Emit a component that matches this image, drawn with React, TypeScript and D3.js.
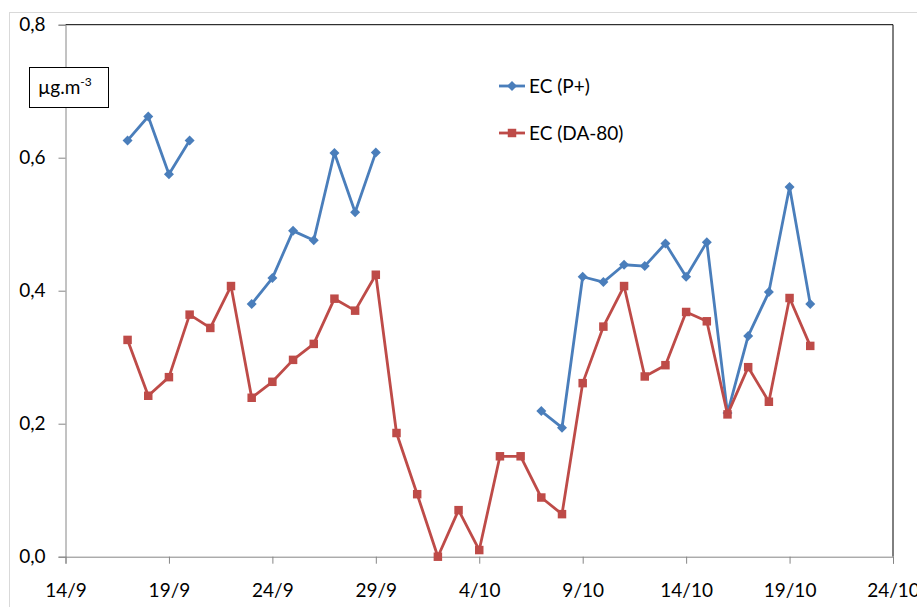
import React, { useEffect, useRef } from 'react';
import * as d3 from 'd3';

// sample days (dd/mm), 17/9 .. 20/10
const days = [
  '17/9', '18/9', '19/9', '20/9', '21/9', '22/9', '23/9', '24/9', '25/9', '26/9',
  '27/9', '28/9', '29/9', '30/9', '1/10', '2/10', '3/10', '4/10', '5/10', '6/10',
  '7/10', '8/10', '9/10', '10/10', '11/10', '12/10', '13/10', '14/10', '15/10', '16/10',
  '17/10', '18/10', '19/10', '20/10',
];

// EC (P+) — null where no sample
const ecP = [
  0.626, 0.662, 0.575, 0.626, null, null, 0.380, 0.419, 0.490, 0.476,
  0.607, 0.518, 0.608, null, null, null, null, null, null, null,
  0.219, 0.194, 0.421, 0.413, 0.439, 0.437, 0.471, 0.421, 0.473, 0.216,
  0.332, 0.398, 0.556, 0.380,
];

// EC (DA-80)
const ecDA = [
  0.326, 0.242, 0.270, 0.364, 0.344, 0.407, 0.239, 0.263, 0.296, 0.320,
  0.388, 0.370, 0.424, 0.186, 0.094, 0.0, 0.070, 0.010, 0.151, 0.151,
  0.089, 0.064, 0.261, 0.346, 0.407, 0.271, 0.288, 0.368, 0.354, 0.214,
  0.285, 0.233, 0.389, 0.317,
];

const xTicks = ['14/9', '19/9', '24/9', '29/9', '4/10', '9/10', '14/10', '19/10', '24/10'];
const yTicks = [0, 0.2, 0.4, 0.6, 0.8];

const parseDay = (s: string) => {
  const [d, m] = s.split('/').map(Number);
  return new Date(2011, m - 1, d);
};

const FONT = "Lato, 'Open Sans', sans-serif";
const FS = 19;
const BLUE = '#4a7ebb';
const RED = '#be4b48';

// diamond = square turned 45deg, square as is
const diamond = d3.symbol().type(d3.symbolSquare).size(50)();
const square = d3.symbol().type(d3.symbolSquare).size(72)();

const App = () => {
  const ref = useRef<SVGSVGElement>(null);

  useEffect(() => {
    const svg = d3.select(ref.current);
    svg.selectAll('*').remove();

    const left = 65.5, right = 893, top = 24.7, bottom = 556.7;

    const x = d3.scaleTime()
      .domain([parseDay('14/9'), parseDay('24/10')])
      .range([left, right]);
    const y = d3.scaleLinear().domain([0, 0.8]).range([bottom, top]);

    // outer chart border
    svg.append('rect')
      .attr('x', 9.5).attr('y', 12.5).attr('width', 1000).attr('height', 700)
      .attr('fill', 'white').attr('stroke', '#d9d9d9');

    // plot area frame (top + right)
    svg.append('path')
      .attr('d', `M${left},${top}H${right}V${bottom}`)
      .attr('fill', 'none').attr('stroke', '#000').attr('stroke-width', 1);

    // y axis
    const yAxis = svg.append('g')
      .attr('transform', `translate(${left},0)`)
      .call(d3.axisLeft(y).tickValues(yTicks).tickSize(7).tickPadding(13)
        .tickFormat(d => d3.format('.1f')(d as number).replace('.', ',')));
    yAxis.select('.domain').attr('stroke', '#868686');
    yAxis.selectAll('line').attr('stroke', '#868686');
    yAxis.selectAll('text').attr('font-family', FONT).attr('font-size', FS).attr('fill', '#000');

    // x axis
    const xAxis = svg.append('g')
      .attr('transform', `translate(0,${bottom})`)
      .call(d3.axisBottom(x).tickValues(xTicks.map(parseDay)).tickSize(7).tickPadding(20)
        .tickFormat((d, i) => xTicks[i]));
    xAxis.select('.domain').attr('stroke', '#868686');
    xAxis.selectAll('line').attr('stroke', '#868686');
    xAxis.selectAll('text').attr('font-family', FONT).attr('font-size', FS).attr('fill', '#000');

    const series = [
      { name: 'EC (P+)', values: ecP, color: BLUE, marker: diamond, rot: 45 },
      { name: 'EC (DA-80)', values: ecDA, color: RED, marker: square, rot: 0 },
    ];

    series.forEach(s => {
      const pts = days.map((d, i) => ({ date: parseDay(d), v: s.values[i] }));
      const line = d3.line<{ date: Date; v: number | null }>()
        .defined(p => p.v !== null)
        .x(p => x(p.date))
        .y(p => y(p.v as number));
      svg.append('path')
        .datum(pts)
        .attr('d', line)
        .attr('fill', 'none')
        .attr('stroke', s.color)
        .attr('stroke-width', 2.8)
        .attr('stroke-linejoin', 'round');
      svg.append('g').selectAll('path')
        .data(pts.filter(p => p.v !== null))
        .join('path')
        .attr('transform', p => `translate(${x(p.date)},${y(p.v as number)}) rotate(${s.rot})`)
        .attr('d', s.marker)
        .attr('fill', s.color);
    });

    // legend
    const legend = svg.append('g');
    series.forEach((s, i) => {
      const ly = 86 + i * 47;
      legend.append('line')
        .attr('x1', 499).attr('x2', 525).attr('y1', ly).attr('y2', ly)
        .attr('stroke', s.color).attr('stroke-width', 2.8);
      legend.append('path')
        .attr('transform', `translate(512,${ly}) rotate(${s.rot})`)
        .attr('d', s.marker)
        .attr('fill', s.color);
      legend.append('text')
        .attr('x', 529).attr('y', ly).attr('dy', '0.35em')
        .attr('font-family', FONT).attr('font-size', FS)
        .text(s.name);
    });

    // unit box
    svg.append('rect')
      .attr('x', 29.5).attr('y', 67.5).attr('width', 79).attr('height', 40)
      .attr('fill', 'white').attr('stroke', '#000');
    const unit = svg.append('text')
      .attr('x', 38).attr('y', 94)
      .attr('font-family', FONT).attr('font-size', FS);
    unit.append('tspan').text('µg.m');
    unit.append('tspan').attr('font-size', 12).attr('dy', -8).text('-3');
  }, []);

  return (
    <svg
      ref={ref}
      width={917}
      height={607}
      style={{ position: 'absolute', left: 0, top: 0, background: 'white' }}
    />
  );
};

export default App;
